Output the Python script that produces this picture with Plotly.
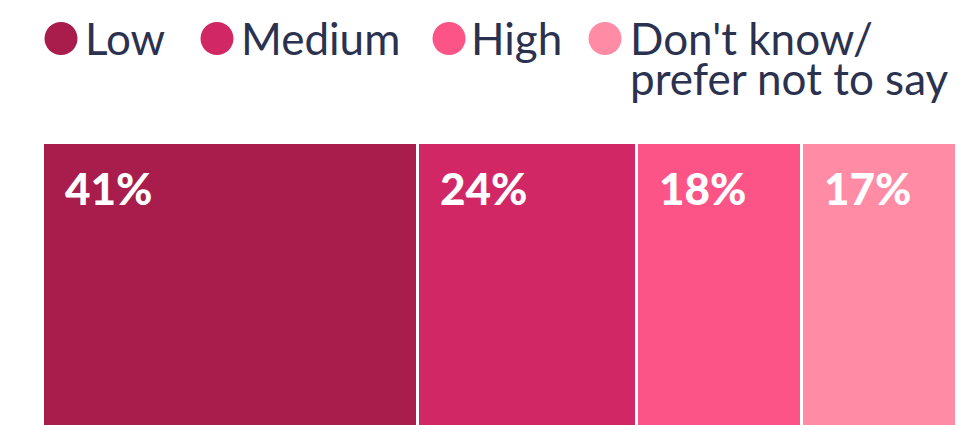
import plotly.graph_objects as go

categories = ["Low", "Medium", "High", "Don't know/<br>prefer not to say"]
legend_lines = [["Low"], ["Medium"], ["High"], ["Don't know/", "prefer not to say"]]
values = [41, 24, 18, 17]
labels = ["41%", "24%", "18%", "17%"]
colors = ["#A81D4C", "#D12865", "#FC5487", "#FF8BA5"]

W, H = 974, 425
ML, MR, MT, MB = 43, 17, 143, 0
pw = W - ML - MR
ph = H - MT - MB

def px_x(p):
    return (p - ML) / pw

def px_y(p):
    return (H - MB - p) / ph

fig = go.Figure()
for cat, v, c in zip(categories, values, colors):
    fig.add_trace(go.Bar(
        x=[v], y=["all"], orientation="h", name=cat,
        marker=dict(color=c, line=dict(color="white", width=3)),
        hoverinfo="skip", showlegend=False,
    ))

annotations = []
cum = 0
for v, lab in zip(values, labels):
    annotations.append(dict(
        x=cum, y=px_y(188), xref="x", yref="paper",
        text=lab, showarrow=False, xanchor="left", yanchor="middle",
        xshift=20,
        font=dict(family="Lato", size=44, color="white", weight=900),
    ))
    cum += v

# manual legend
legend_circle_cx = [61, 217, 449, 605]
legend_text_x = [83, 239, 469, 628]
shapes = []
text_color = "#2B3250"
for i, (cx, tx, lines, c) in enumerate(zip(legend_circle_cx, legend_text_x, legend_lines, colors)):
    shapes.append(dict(
        type="circle", xref="paper", yref="paper",
        xsizemode="pixel", ysizemode="pixel",
        xanchor=px_x(cx), yanchor=px_y(38.5),
        x0=-16.5, x1=16.5, y0=-16.5, y1=16.5,
        fillcolor=c, line=dict(width=0),
    ))
    for j, line in enumerate(lines):
        annotations.append(dict(
            x=px_x(tx), y=px_y(38 + 40 * j), xref="paper", yref="paper",
            text=line, showarrow=False, xanchor="left", yanchor="middle",
            font=dict(family="Lato", size=44, color=text_color),
        ))

fig.update_layout(
    width=W, height=H,
    margin=dict(l=ML, r=MR, t=MT, b=MB, pad=0),
    barmode="stack", bargap=0,
    plot_bgcolor="white", paper_bgcolor="white",
    xaxis=dict(range=[0, 100], visible=False, fixedrange=True),
    yaxis=dict(range=[-0.45, 0.5], visible=False, fixedrange=True),
    annotations=annotations, shapes=shapes,
    showlegend=False,
)

fig.write_html("out.html", config={"displayModeBar": False})
